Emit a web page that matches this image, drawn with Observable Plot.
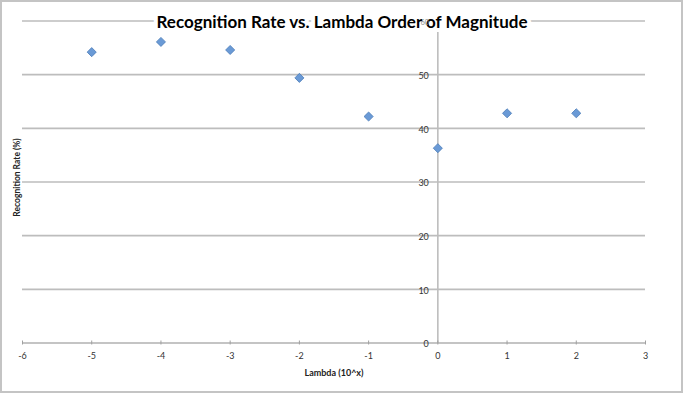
<!DOCTYPE html>
<html><head><meta charset="utf-8">
<script src="https://cdn.jsdelivr.net/npm/d3@7"></script>
<script src="https://cdn.jsdelivr.net/npm/@observablehq/plot@0.6"></script>
<style>
body{margin:0;background:#fff;}
#wrap{position:relative;width:684px;height:393px;overflow:hidden;}
#border{position:absolute;left:0;top:0;width:683px;height:393px;box-sizing:border-box;border:2px solid #c4c4c4;pointer-events:none;}
</style></head><body><div id="wrap"><div id="chart"></div><div id="border"></div></div>
<script>
const lambdaExp = [-5, -4, -3, -2, -1, 0, 1, 2];
const recognitionRate = [54.2, 56.1, 54.6, 49.4, 42.2, 36.3, 42.8, 42.8];
const xTicks = [-6, -5, -4, -3, -2, -1, 0, 1, 2, 3];
const yTicks = [0, 10, 20, 30, 40, 50, 60];
const title = "Recognition Rate vs. Lambda Order of Magnitude";
const xLabel = "Lambda (10^x)";
const yLabel = "Recognition Rate (%)";

const data = lambdaExp.map((x, i) => ({x, y: recognitionRate[i]}));

const plot = Plot.plot({
  width: 684, height: 393,
  marginLeft: 22, marginRight: 39, marginTop: 20.5, marginBottom: 50.5,
  style: {fontFamily: "Lato, sans-serif", fontSize: "9px", color: "#333", background: "white"},
  x: {domain: [-6, 3], axis: null},
  y: {domain: [0, 60], axis: null},
  marks: [
    Plot.ruleY(yTicks.filter(d => d > 0), {stroke: "#bdbdbd", strokeWidth: 1.6}),
    Plot.ruleX([0], {y1: 0, y2: 60, stroke: "#bdbdbd", strokeWidth: 1.6, insetBottom: -3}),
    Plot.ruleY([0], {stroke: "#8a8a8a", strokeWidth: 1.2}),
    Plot.ruleX(xTicks, {y1: 0, y2: 0, insetTop: -2, insetBottom: -2, stroke: "#a0a0a0", strokeWidth: 1}),
    Plot.text(xTicks, {x: d => d, y: 0, dy: 13, text: d => String(d), fill: "#333"}),
    Plot.text(yTicks.filter(d => d < 60), {x: 0, y: d => d, dx: -9, dy: 1.5, textAnchor: "end", text: d => String(d), fill: "#333"}),
    Plot.dot(data, {x: "x", y: "y", symbol: "diamond2", r: 4.1, fill: "#6a9ad6", stroke: "#4a7bb8", strokeWidth: 0.8}),
    Plot.text([title], {frameAnchor: "top", dx: 8, dy: 1.5, lineAnchor: "middle", fontSize: 17, fontWeight: "bold", fill: "black", stroke: "white", strokeWidth: 8, strokeLinejoin: "round", paintOrder: "stroke"}),
    Plot.text(yTicks.filter(d => d === 60), {x: 0, y: d => d, dx: -9, dy: 1.5, textAnchor: "end", text: d => String(d), fill: "#888", fontSize: 7}),
    Plot.text([xLabel], {frameAnchor: "bottom", dy: 30.5, lineAnchor: "middle", fontWeight: "bold", fontSize: 9, fill: "#222"}),
    Plot.text([yLabel], {frameAnchor: "left", dx: -5, dy: -4.5, rotate: -90, textAnchor: "middle", lineAnchor: "middle", fontWeight: "bold", fontSize: 8.5, fill: "#222"})
  ]
});
document.getElementById("chart").appendChild(plot);
</script>
</body></html>
